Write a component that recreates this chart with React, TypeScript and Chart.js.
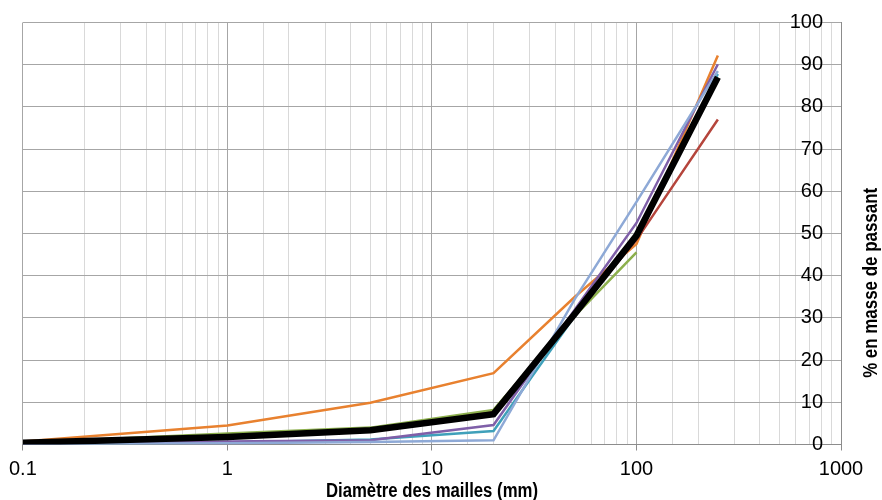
import React, { useEffect, useRef } from "react";
import { Chart, registerables } from "chart.js";

Chart.register(...registerables);

// Sieve sizes (mm)
const sizes = [0.1, 1, 5, 20, 50, 100, 250];

// % passing per sample
const blackMean = [0.4, 1.8, 3.4, 7.2, 31, 49.5, 87.0];
const lightBlue = [0.1, 0.3, 0.6, 1.0, 34.5, 57.5, 88.5];
const purple = [0.2, 0.7, 1.0, 4.6, 32, 52.5, 90.1];
const teal = [0.2, 0.5, 1.2, 3.2, 30.5, 49.5, 87.8];
const red = [0.3, 2.2, 3.8, 8.0, 31, 48.5, 77.0];
const green = [0.4, 2.6, 4.0, 8.2, 30.5, 45.5, null];
const orange = [0.7, 4.5, 9.9, 16.9, 35, 47.5, 92.2];

const xTickValues = [0.1, 1, 10, 100, 1000];
const xTickLabels = ["0.1", "1", "10", "100", "1000"];
const yTicks = [0, 10, 20, 30, 40, 50, 60, 70, 80, 90, 100];

const xTitle = "Diamètre des mailles (mm)";
const yTitle = "% en masse de passant";

const FONT = "'Liberation Sans', Arial, sans-serif";

function isDecade(v: number) {
  const l = Math.log10(v);
  return Math.abs(l - Math.round(l)) < 1e-6;
}

function drawCondensed(ctx: CanvasRenderingContext2D, text: string, targetWidth: number) {
  const w = ctx.measureText(text).width;
  const s = Math.min(1, targetWidth / w);
  ctx.scale(s, 1);
  ctx.fillText(text, 0, 0);
}

export default function App() {
  const ref = useRef<HTMLCanvasElement | null>(null);

  useEffect(() => {
    if (!ref.current) return;
    const mk = (vals: (number | null)[], color: string, width: number) => ({
      data: sizes.map((x, i) => ({ x, y: vals[i] })),
      borderColor: color,
      backgroundColor: color,
      borderWidth: width,
      pointRadius: 0,
      tension: 0,
      fill: false,
      spanGaps: false,
    });

    const titlesPlugin = {
      id: "axisTitles",
      afterDraw(chart: any) {
        const { ctx, chartArea } = chart;
        ctx.save();
        ctx.fillStyle = "#000";
        ctx.font = `bold 20px ${FONT}`;
        ctx.textAlign = "center";
        ctx.textBaseline = "middle";
        // y title (right side, reading upward)
        ctx.save();
        ctx.translate(chart.width - 11, chartArea.top + (chartArea.bottom - chartArea.top) * 0.617);
        ctx.rotate(-Math.PI / 2);
        drawCondensed(ctx, yTitle, 190);
        ctx.restore();
        // x title
        ctx.save();
        ctx.translate((chartArea.left + chartArea.right) / 2, chart.height - 9);
        drawCondensed(ctx, xTitle, 212);
        ctx.restore();
        ctx.restore();
      },
    };

    const chart = new Chart(ref.current, {
      type: "line",
      data: {
        datasets: [
          mk(blackMean, "#000000", 6.5),
          mk(lightBlue, "#8EA9D6", 2.5),
          mk(purple, "#7F5FA8", 2.5),
          mk(teal, "#3FA0BA", 2.5),
          mk(green, "#8DB04D", 2.5),
          mk(red, "#B5453C", 2.5),
          mk(orange, "#E8812F", 2.5),
        ] as any,
      },
      options: {
        animation: false,
        responsive: true,
        maintainAspectRatio: false,
        layout: { padding: { left: 22, right: 41, top: 22.5, bottom: 0 } },
        plugins: { legend: { display: false }, tooltip: { enabled: false } },
        scales: {
          x: {
            type: "logarithmic",
            min: 0.1,
            max: 1000,
            position: "bottom",
            afterFit: (s: any) => {
              s.height = 55.5;
            },
            grid: {
              color: (c: any) => (c.tick && isDecade(c.tick.value) ? "#a6a6a6" : "#d9d9d9"),
              tickColor: (c: any) => (c.tick && isDecade(c.tick.value) ? "#8c8c8c" : "rgba(0,0,0,0)"),
              tickLength: 6,
              lineWidth: 1,
            },
            border: { display: true, color: "#8c8c8c", width: 1 },
            ticks: {
              autoSkip: false,
              maxRotation: 0,
              minRotation: 0,
              padding: 9,
              color: "#000",
              font: { family: FONT, size: 20, lineHeight: 1 },
              callback: (value: any) => {
                const v = Number(value);
                const idx = xTickValues.findIndex((t) => Math.abs(Math.log10(t) - Math.log10(v)) < 1e-6);
                return idx >= 0 ? xTickLabels[idx] : "";
              },
            },
          },
          y: {
            type: "linear",
            position: "right",
            min: 0,
            max: 100,
            afterFit: (s: any) => {
              s.width = 0;
            },
            afterBuildTicks: (s: any) => {
              s.ticks = yTicks.map((v) => ({ value: v }));
            },
            grid: { color: "#a6a6a6", lineWidth: 1, drawTicks: false },
            border: { display: true, color: "#8c8c8c", width: 1 },
            ticks: {
              mirror: true,
              padding: -18,
              color: "#000",
              font: { family: FONT, size: 20, lineHeight: 1 },
            },
          },
        },
      },
      plugins: [titlesPlugin],
    });
    return () => chart.destroy();
  }, []);

  return (
    <div style={{ position: "fixed", left: 0, top: 0, width: 882, height: 500, background: "#fff" }}>
      <canvas ref={ref} />
    </div>
  );
}
